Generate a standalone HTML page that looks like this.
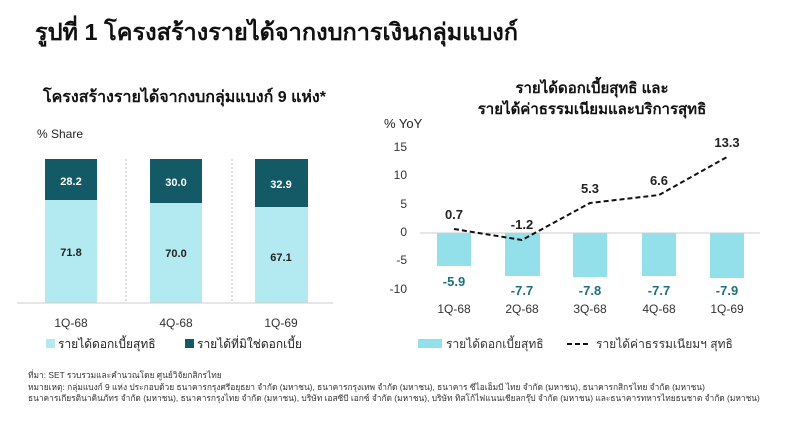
<!DOCTYPE html>
<html><head><meta charset="utf-8"><style>
body{margin:0;background:#fff;width:797px;height:421px;overflow:hidden;font-family:"Liberation Sans","Noto Sans CJK SC",sans-serif;}
svg text{font-family:"Liberation Sans","Noto Sans CJK SC",sans-serif;}
</style></head><body>
<svg width="797" height="421" xmlns="http://www.w3.org/2000/svg">
<text x="35" y="40" font-size="23.5" font-weight="bold" fill="#111">รูปที่ 1 โครงสร้างรายได้จากงบการเงินกลุ่มแบงก์</text>
<text x="43" y="102" font-size="16" font-weight="bold" fill="#111">โครงสร้างรายได้จากงบกลุ่มแบงก์ 9 แห่ง*</text>
<text x="37" y="138" font-size="12" fill="#222">% Share</text>
<rect x="45" y="159" width="52" height="41" fill="#135a66"/><rect x="45" y="200" width="52" height="103" fill="#b3e9f1"/>
<rect x="150" y="159" width="52" height="44" fill="#135a66"/><rect x="150" y="203" width="52" height="100" fill="#b3e9f1"/>
<rect x="255" y="159" width="53" height="48" fill="#135a66"/><rect x="255" y="207" width="53" height="96" fill="#b3e9f1"/>
<line x1="126" y1="159" x2="126" y2="303" stroke="#bbb" stroke-dasharray="2,2"/>
<line x1="232" y1="159" x2="232" y2="303" stroke="#bbb" stroke-dasharray="2,2"/>
<line x1="17" y1="303" x2="333" y2="303" stroke="#ccc"/>
<g font-size="11" font-weight="bold" text-anchor="middle">
<text x="71" y="185" fill="#fff">28.2</text><text x="176" y="186" fill="#fff">30.0</text><text x="281" y="188" fill="#fff">32.9</text>
<text x="71" y="256" fill="#222">71.8</text><text x="176" y="257" fill="#222">70.0</text><text x="281" y="261" fill="#222">67.1</text>
</g>
<g font-size="12" fill="#333" text-anchor="middle">
<text x="71" y="327">1Q-68</text><text x="176" y="327">4Q-68</text><text x="281" y="327">1Q-69</text>
</g>
<rect x="46" y="339" width="9" height="9" fill="#b3e9f1"/>
<text x="58" y="348" font-size="12" fill="#222">รายได้ดอกเบี้ยสุทธิ</text>
<rect x="185" y="339" width="9" height="9" fill="#135a66"/>
<text x="197" y="348" font-size="12" fill="#222">รายได้ที่มิใช่ดอกเบี้ย</text>
<g font-size="15" font-weight="bold" text-anchor="middle" fill="#111">
<text x="592" y="93">รายได้ดอกเบี้ยสุทธิ และ</text>
<text x="592" y="114">รายได้ค่าธรรมเนียมและบริการสุทธิ</text>
</g>
<text x="384" y="128" font-size="13" fill="#222">% YoY</text>
<g font-size="12" fill="#333" text-anchor="end">
<text x="407" y="151">15</text><text x="407" y="179">10</text><text x="407" y="208">5</text><text x="407" y="236">0</text><text x="407" y="264">-5</text><text x="407" y="293">-10</text>
</g>
<g fill="#93e0ea">
<rect x="437" y="233" width="34" height="33"/>
<rect x="505" y="233" width="35" height="43"/>
<rect x="573" y="233" width="34" height="44"/>
<rect x="642" y="233" width="34" height="43"/>
<rect x="710" y="233" width="34" height="45"/>
</g>
<line x1="420" y1="233" x2="760" y2="233" stroke="#ccc"/>
<polyline points="454,229 522,240 590,203 659,195 727,157" fill="none" stroke="#111" stroke-width="2" stroke-dasharray="5,3"/>
<g font-size="13" font-weight="bold" text-anchor="middle" fill="#222">
<text x="454" y="219">0.7</text><text x="522" y="229">-1.2</text><text x="590" y="193">5.3</text><text x="659" y="185">6.6</text><text x="727" y="147">13.3</text>
</g>
<g font-size="13" font-weight="bold" text-anchor="middle" fill="#1f6f80">
<text x="454" y="286">-5.9</text><text x="522" y="295">-7.7</text><text x="590" y="295">-7.8</text><text x="659" y="295">-7.7</text><text x="727" y="295">-7.9</text>
</g>
<g font-size="12" fill="#333" text-anchor="middle">
<text x="454" y="313">1Q-68</text><text x="522" y="313">2Q-68</text><text x="590" y="313">3Q-68</text><text x="659" y="313">4Q-68</text><text x="727" y="313">1Q-69</text>
</g>
<rect x="418" y="339" width="24" height="9" fill="#93e0ea"/>
<text x="446" y="348" font-size="12" fill="#333">รายได้ดอกเบี้ยสุทธิ</text>
<line x1="567" y1="344" x2="590" y2="344" stroke="#111" stroke-width="2" stroke-dasharray="5,3"/>
<text x="596" y="348" font-size="12" fill="#333">รายได้ค่าธรรมเนียมฯ สุทธิ</text>
<g font-size="8.4" fill="#333">
<text x="28" y="378">ที่มา: SET รวบรวมและคำนวณโดย ศูนย์วิจัยกสิกรไทย</text>
<text x="28" y="390">หมายเหตุ: กลุ่มแบงก์ 9 แห่ง ประกอบด้วย ธนาคารกรุงศรีอยุธยา จำกัด (มหาชน), ธนาคารกรุงเทพ จำกัด (มหาชน), ธนาคาร ซีไอเอ็มบี ไทย จำกัด (มหาชน), ธนาคารกสิกรไทย จำกัด (มหาชน)</text>
<text x="28" y="401">ธนาคารเกียรตินาคินภัทร จำกัด (มหาชน), ธนาคารกรุงไทย จำกัด (มหาชน), บริษัท เอสซีบี เอกซ์ จำกัด (มหาชน), บริษัท ทิสโก้ไฟแนนเชียลกรุ๊ป จำกัด (มหาชน) และธนาคารทหารไทยธนชาต จำกัด (มหาชน)</text>
</g>
</svg>
</body></html>
